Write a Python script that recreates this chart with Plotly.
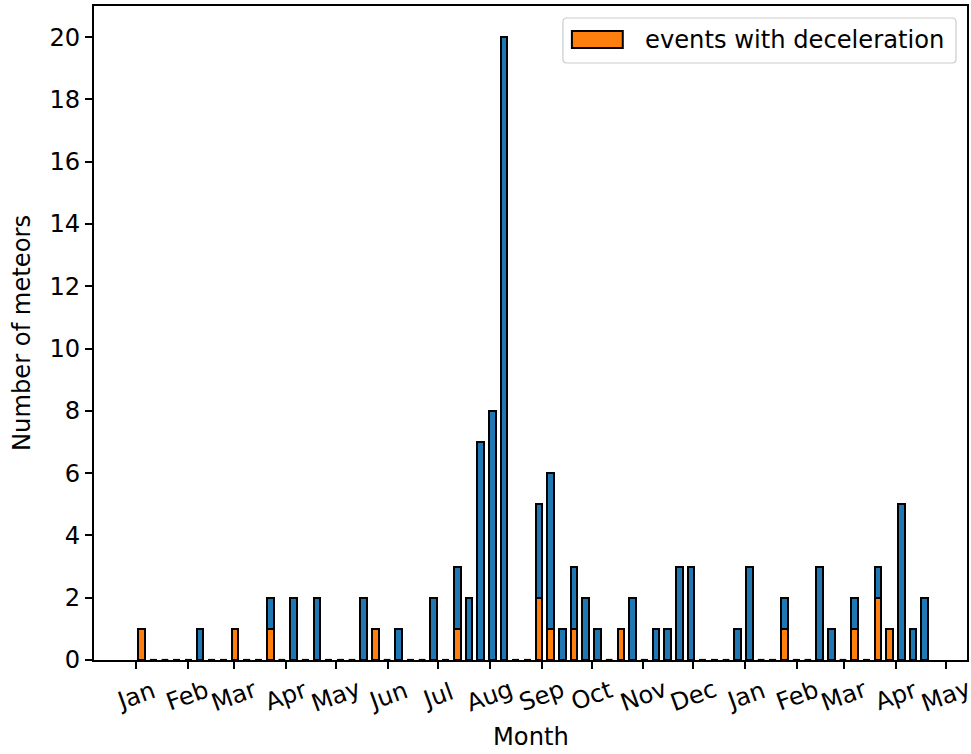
import pandas as pd
import plotly.graph_objects as go

# Weekly meteor counts, one entry per 7-day bin starting 2021-01-01
total_counts = [1, 0, 0, 0, 0, 1, 0, 0, 1, 0,
                0, 2, 0, 2, 0, 2, 0, 0, 0, 2,
                1, 0, 1, 0, 0, 2, 0, 3, 2, 7,
                8, 20, 0, 0, 5, 6, 1, 3, 2, 1,
                0, 1, 2, 0, 1, 1, 3, 3, 0, 0,
                0, 1, 3, 0, 0, 2, 0, 0, 3, 1,
                0, 2, 0, 3, 1, 5, 1, 2]
decel_counts = [1, 0, 0, 0, 0, 0, 0, 0, 1, 0,
                0, 1, 0, 0, 0, 0, 0, 0, 0, 0,
                1, 0, 0, 0, 0, 0, 0, 1, 0, 0,
                0, 0, 0, 0, 2, 1, 0, 1, 0, 0,
                0, 1, 0, 0, 0, 0, 0, 0, 0, 0,
                0, 0, 0, 0, 0, 1, 0, 0, 0, 0,
                0, 1, 0, 2, 1, 0, 0, 0]

first_bin = "2021-01-01"
bin_days = 7
bar_days = 4

month_labels = ["Jan", "Feb", "Mar", "Apr", "May", "Jun", "Jul", "Aug", "Sep",
                "Oct", "Nov", "Dec", "Jan", "Feb", "Mar", "Apr", "May"]
month_starts = pd.date_range("2021-01-01", periods=len(month_labels), freq="MS")

legend_label = "events with deceleration"

BLUE = "#1f77b4"
ORANGE = "#ff7f0e"
FONT = "DejaVu Sans"
FS = 24.2

bin_starts = pd.date_range(first_bin, periods=len(total_counts), freq=f"{bin_days}D")
centers = bin_starts + pd.Timedelta(days=bin_days / 2)
bar_ms = bar_days * 86400000

fig = go.Figure()
fig.add_trace(go.Bar(
    x=centers, y=total_counts, width=bar_ms,
    marker=dict(color=BLUE, line=dict(color="black", width=2)),
    cliponaxis=False, showlegend=False,
))
fig.add_trace(go.Bar(
    x=centers, y=decel_counts, width=bar_ms,
    marker=dict(color=ORANGE, line=dict(color="black", width=2)),
    cliponaxis=False, showlegend=False, name=legend_label,
))

# empty weeks show up as flat outlines on the baseline
half = pd.Timedelta(days=bar_days / 2)
zx, zy = [], []
for c, n in zip(centers, total_counts):
    if n == 0:
        zx += [c - half, c + half, None]
        zy += [0, 0, None]
fig.add_trace(go.Scatter(x=zx, y=zy, mode="lines",
                         line=dict(color="black", width=2.2),
                         cliponaxis=False, showlegend=False, hoverinfo="skip"))

W, H = 971, 754
L, R, T, B = 94, 2, 6, 94
pw, ph = W - L - R, H - T - B


def fx(px):
    return (px - L) / pw


def fy(py):
    return (T + ph - py) / ph


jan1 = pd.Timestamp("2021-01-01")
x_range = [jan1 - pd.Timedelta(days=25.0), jan1 + pd.Timedelta(days=497.8)]

annotations = []
for d, lab in zip(month_starts, month_labels):
    annotations.append(dict(
        x=d, xref="x", y=0, yref="paper", yshift=-36,
        text=lab, showarrow=False, textangle=-20,
        xanchor="center", yanchor="middle",
        font=dict(family=FONT, size=FS, color="black"),
    ))
annotations.append(dict(x=0.5, xref="paper", y=0, yref="paper", yshift=-77,
                        text="Month", showarrow=False, xanchor="center",
                        yanchor="middle",
                        font=dict(family=FONT, size=FS, color="black")))
annotations.append(dict(x=0, xref="paper", xshift=-72, y=0.5, yref="paper",
                        text="Number of meteors", showarrow=False,
                        textangle=-90, xanchor="center", yanchor="middle",
                        font=dict(family=FONT, size=FS, color="black")))

# legend frame, swatch and label
bx0, bx1, by0, by1 = 564, 958, 18, 63
r = 4
rx, ry = r / pw, r / ph
X0, X1, Y0, Y1 = fx(bx0), fx(bx1), fy(by1), fy(by0)
frame = (f"M{X0+rx},{Y0} L{X1-rx},{Y0} Q{X1},{Y0} {X1},{Y0+ry} "
         f"L{X1},{Y1-ry} Q{X1},{Y1} {X1-rx},{Y1} L{X0+rx},{Y1} "
         f"Q{X0},{Y1} {X0},{Y1-ry} L{X0},{Y0+ry} Q{X0},{Y0} {X0+rx},{Y0} Z")
shapes = [
    dict(type="path", xref="paper", yref="paper", path=frame,
         fillcolor="rgba(255,255,255,0.8)", line=dict(color="#cccccc", width=1.2)),
    dict(type="rect", xref="paper", yref="paper",
         x0=fx(573), x1=fx(624), y0=fy(48), y1=fy(31),
         fillcolor=ORANGE, line=dict(color="black", width=2)),
]
annotations.append(dict(x=fx(644), xref="paper", y=fy(40), yref="paper",
                        text=legend_label, showarrow=False, xanchor="left",
                        yanchor="middle",
                        font=dict(family=FONT, size=FS, color="black")))

fig.update_layout(
    width=W, height=H,
    margin=dict(l=L, r=R, t=T, b=B, pad=0),
    paper_bgcolor="white", plot_bgcolor="white",
    barmode="overlay", bargap=0,
    font=dict(family=FONT, size=FS, color="black"),
    xaxis=dict(
        type="date", range=x_range,
        tickmode="array", tickvals=list(month_starts), showticklabels=False,
        ticks="outside", ticklen=7, tickwidth=1.8, tickcolor="black",
        showline=True, linecolor="black", linewidth=1.8, mirror=True,
        showgrid=False, zeroline=False,
    ),
    yaxis=dict(
        range=[0, 21], tickmode="array", tickvals=list(range(0, 21, 2)),
        ticks="outside", ticklen=7, tickwidth=1.8, tickcolor="black",
        tickfont=dict(family=FONT, size=FS, color="black"),
        showline=True, linecolor="black", linewidth=1.8, mirror=True,
        showgrid=False, zeroline=False,
    ),
    shapes=shapes,
    annotations=annotations,
)

fig.write_html("out.html")
